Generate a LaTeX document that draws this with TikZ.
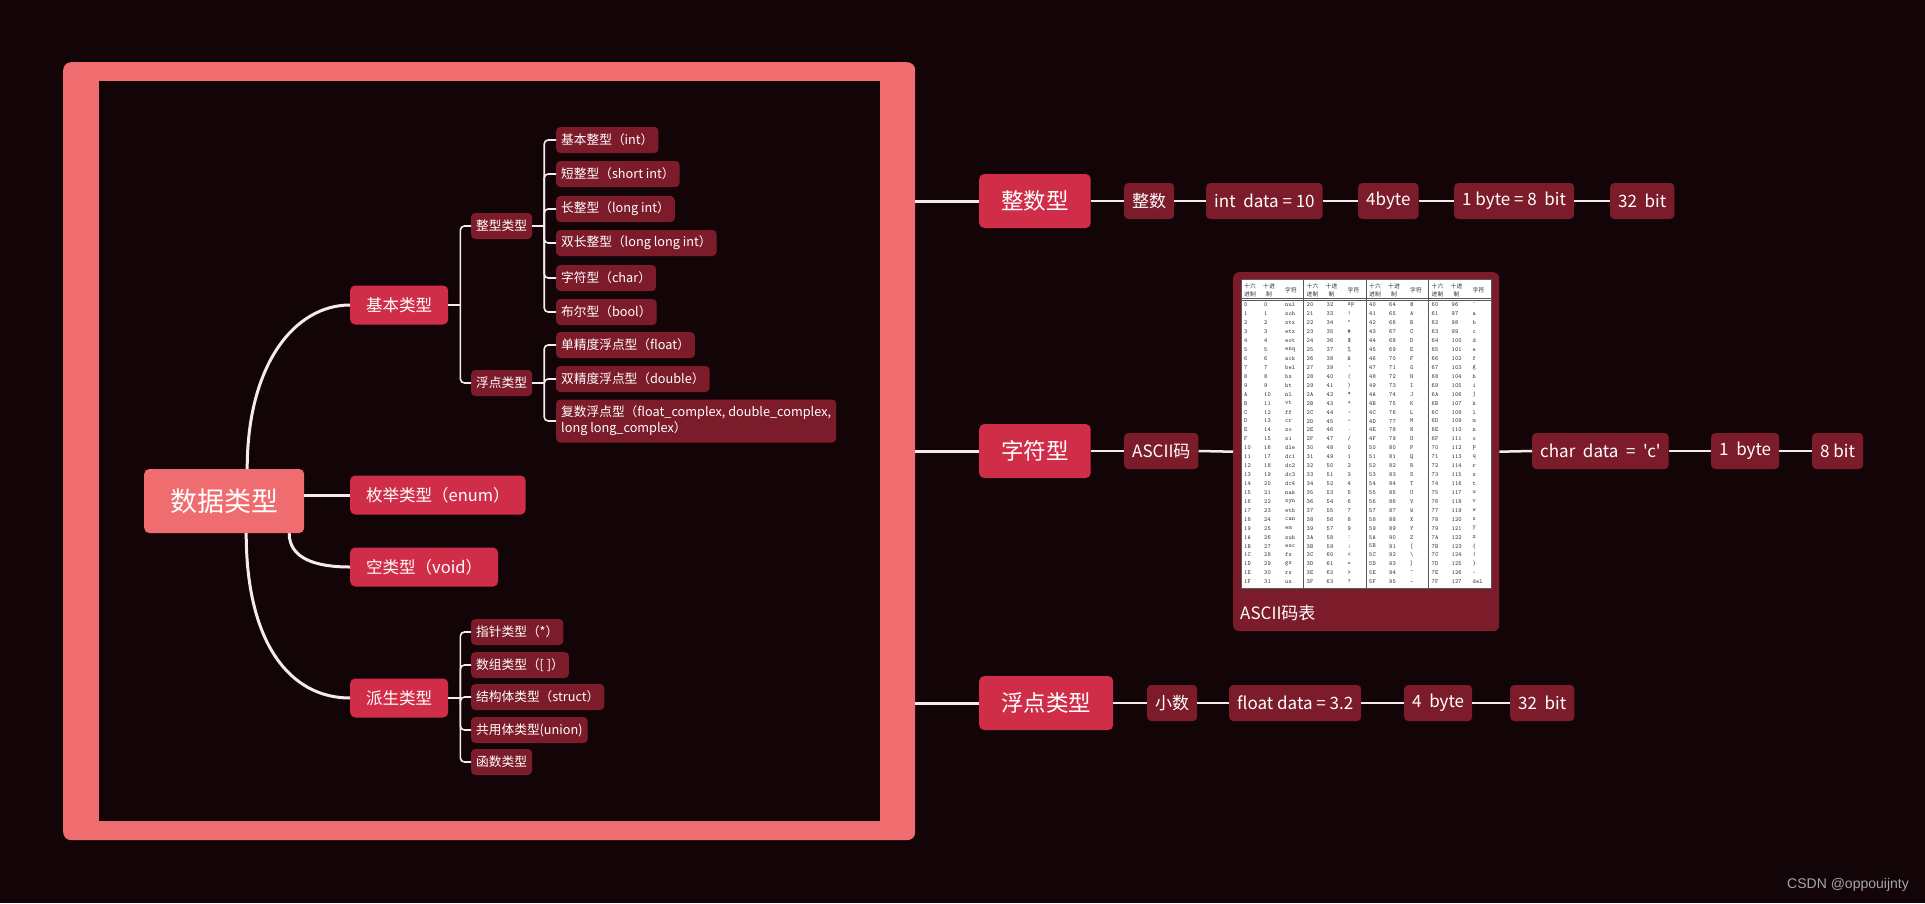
\documentclass[tikz,border=0pt]{standalone}
\usepackage{fontspec}
\setmainfont{Noto Sans CJK SC}[Ligatures=TeXOff]
\newfontfamily\wmfont{Liberation Sans}

\definecolor{bgdark}{HTML}{130408}
\definecolor{salmon}{HTML}{EF6C6F}
\definecolor{crimson}{HTML}{D02E48}
\definecolor{wine}{HTML}{7C1C2A}
\definecolor{linkwhite}{HTML}{F4ECEC}

\newcommand\asciichar[1]{\ifcase#1 nul\or soh\or stx\or etx\or eot\or enq\or ack\or bel\or bs\or ht\or nl\or vt\or ff\or cr\or so\or si\or dle\or dc1\or dc2\or dc3\or dc4\or nak\or syn\or etb\or can\or em\or sub\or esc\or fs\or gs\or rs\or us\or sp\else\ifnum#1=127 del\else\symbol{#1}\fi\fi}

\begin{document}
\begin{tikzpicture}[x=1pt, y=-1pt,
  topic/.style={fill=crimson, text=white, rounded corners=5pt, anchor=west, inner xsep=16pt, minimum height=39pt, font=\fontsize{16.5}{19}\selectfont},
  bigtopic/.style={topic, inner xsep=22pt, minimum height=54pt, font=\fontsize{22.5}{26}\selectfont},
  leaf/.style={fill=wine, text=white, rounded corners=4pt, anchor=west, inner xsep=5pt, minimum height=26pt, font=\fontsize{12.7}{16}\selectfont},
  bigleaf/.style={leaf, inner xsep=8pt, minimum height=36pt, font=\fontsize{17}{20}\selectfont},
  link/.style={draw=linkwhite, line width=3pt},
  chain/.style={draw=linkwhite, line width=2.5pt},
  branch/.style={draw=linkwhite, line width=1.6pt, rounded corners=4pt},
  cell/.style={anchor=west, inner sep=0pt, text=black!80, font=\ttfamily\fontsize{6.2}{7}\selectfont},
  tablerule/.style={draw=black!65, line width=0.8pt}]
\fill[bgdark] (0,0) rectangle (1925,903);
\node[fill=salmon, rounded corners=8pt, minimum width=852pt, minimum height=778pt, inner sep=0pt, anchor=north west] (boundary) at (63,62) {};
\fill[bgdark] (99,81) rectangle (880,821);
%Depth 0
\node[fill=salmon, text=white, rounded corners=5pt, anchor=west, minimum height=64pt, inner xsep=26pt, font=\fontsize{27}{32}\selectfont] (root) at (144,501) {数据类型};
%Depth 1
\node[topic] (basic) at (350,305) {基本类型};
\node[topic] (enum) at (350,495) {枚举类型（enum）};
\node[topic] (void) at (350,567) {空类型（void）};
\node[topic] (derived) at (350,698) {派生类型};
\draw[link] ([xshift=23pt]root.north) .. controls +(0,-105) and +(-55,0) .. (basic.west);
\draw[link] (root.east |- enum.west) -- (enum.west);
\draw[link] ([xshift=65pt]root.south) .. controls +(0,25) and +(-35,0) .. (void.west);
\draw[link] ([xshift=22pt]root.south) .. controls +(0,110) and +(-60,0) .. (derived.west);
%Depth 2
\node[leaf] (inttype) at (471,226) {整型类型};
\node[leaf] (floattype) at (471,383) {浮点类型};
\draw[branch] (basic.east) -- ++(12,0);
\foreach \k in {inttype,floattype} \draw[branch] ([xshift=12pt]basic.east) |- (\k.west);
\node[leaf] (intbase) at (556,140) {基本整型（int）};
\node[leaf] (intshort) at (556,174) {短整型（short int）};
\node[leaf] (intlong) at (556,209) {长整型（long int）};
\node[leaf] (intlonglong) at (556,243) {双长整型（long long int）};
\node[leaf] (intchar) at (556,278) {字符型（char）};
\node[leaf] (intbool) at (556,312) {布尔型（bool）};
\draw[branch] (inttype.east) -- ++(12,0);
\foreach \k in {intbase,intshort,intlong,intlonglong,intchar,intbool} \draw[branch] ([xshift=12pt]inttype.east) |- (\k.west);
\node[leaf] (fltsingle) at (556,345) {单精度浮点型（float）};
\node[leaf] (fltdouble) at (556,379) {双精度浮点型（double）};
\node[leaf, align=left, minimum height=43pt] (fltcomplex) at (556,421) {复数浮点型（float\_complex, double\_complex,\\long long\_complex）};
\draw[branch] (floattype.east) -- ++(12,0);
\foreach \k in {fltsingle,fltdouble,fltcomplex} \draw[branch] ([xshift=12pt]floattype.east) |- (\k.west);
\node[leaf] (ptr) at (471,632) {指针类型（*）};
\node[leaf] (arr) at (471,665) {数组类型（[ ]）};
\node[leaf] (struct) at (471,697) {结构体类型（struct）};
\node[leaf] (union) at (471,730) {共用体类型(union)};
\node[leaf] (func) at (471,762) {函数类型};
\draw[branch] (derived.east) -- ++(12,0);
\foreach \k in {ptr,arr,struct,union,func} \draw[branch] ([xshift=12pt]derived.east) |- (\k.west);
%Right side
\node[bigtopic] (integer) at (979,201) {整数型};
\node[bigtopic] (character) at (979,451) {字符型};
\node[bigtopic] (floating) at (979,703) {浮点类型};
\foreach \k in {integer,character,floating} \draw[link] (boundary.east |- \k.west) -- (\k.west);
\node[bigleaf] (intword) at (1124,201) {整数};
\node[bigleaf] (intdecl) at (1206,201) {int\ \ data = 10};
\node[bigleaf] (intsize) at (1358,201) {4byte};
\node[bigleaf] (intbyte) at (1454,201) {1 byte = 8\ \ bit};
\node[bigleaf] (intbits) at (1610,201) {32\ \ bit};
\node[bigleaf] (asciicode) at (1124,451) {ASCII码};
\node[fill=wine, rounded corners=6pt, minimum width=266pt, minimum height=359pt, inner sep=0pt, anchor=north west] (asciibox) at (1233,272) {};
\node[bigleaf] (chardecl) at (1532,451) {char\ \ data\ \ =\ \ 'c'};
\node[bigleaf] (charsize) at (1711,451) {1\ \ byte};
\node[bigleaf] (charbits) at (1812,451) {8 bit};
\node[bigleaf] (fltword) at (1147,703) {小数};
\node[bigleaf] (fltdecl) at (1229,703) {float data = 3.2};
\node[bigleaf] (fltsize) at (1404,703) {4\ \ byte};
\node[bigleaf] (fltbits) at (1510,703) {32\ \ bit};
\foreach \a/\b in {integer/intword,intword/intdecl,intdecl/intsize,intsize/intbyte,intbyte/intbits,
  character/asciicode,asciicode/asciibox,asciibox/chardecl,chardecl/charsize,charsize/charbits,
  floating/fltword,fltword/fltdecl,fltdecl/fltsize,fltsize/fltbits}
  \draw[chain] (\a.east) -- (\b.west);
%ASCII table
\fill[white] (1241,279) rectangle (1491,588);
\draw[tablerule] (1241,279) rectangle (1491,588);
\draw[tablerule] (1241,298) -- (1491,298) (1241,300.5) -- (1491,300.5);
\foreach \g in {1,2,3} \draw[tablerule] (1241+62.5*\g,279) -- (1241+62.5*\g,588);
\foreach \g in {0,...,3}{
  \node[cell, font=\fontsize{5.8}{8}\selectfont, align=left] (hh\g) at (1244+62.5*\g,290) {十六\\进制};
  \node[cell, font=\fontsize{5.8}{8}\selectfont, align=center] (hd\g) at (1263+62.5*\g,290) {十进\\制};
  \node[cell, font=\fontsize{5.8}{8}\selectfont] (hc\g) at (1285+62.5*\g,290) {字符};
  \foreach \r in {0,...,31}{
    \pgfmathtruncatemacro\code{32*\g+\r}
    \pgfmathparse{Hex(\code)}\let\hx\pgfmathresult
    \node[cell] (x\code) at (1244+62.5*\g,305+8.93*\r) {\hx};
    \node[cell] (d\code) at (1264+62.5*\g,305+8.93*\r) {\code};
    \node[cell] (c\code) at (1285+62.5*\g,305+8.93*\r) {\asciichar{\code}};
  }
}
\node[anchor=west, text=white, inner sep=0pt, font=\fontsize{17}{20}\selectfont] (asciilabel) at (1240,613) {ASCII码表};
\node[anchor=east, text=black!35!white, inner sep=0pt, font=\wmfont\fontsize{14}{16}\selectfont] (mark) at (1909,885) {CSDN @oppouijnty};
\end{tikzpicture}
\end{document}
